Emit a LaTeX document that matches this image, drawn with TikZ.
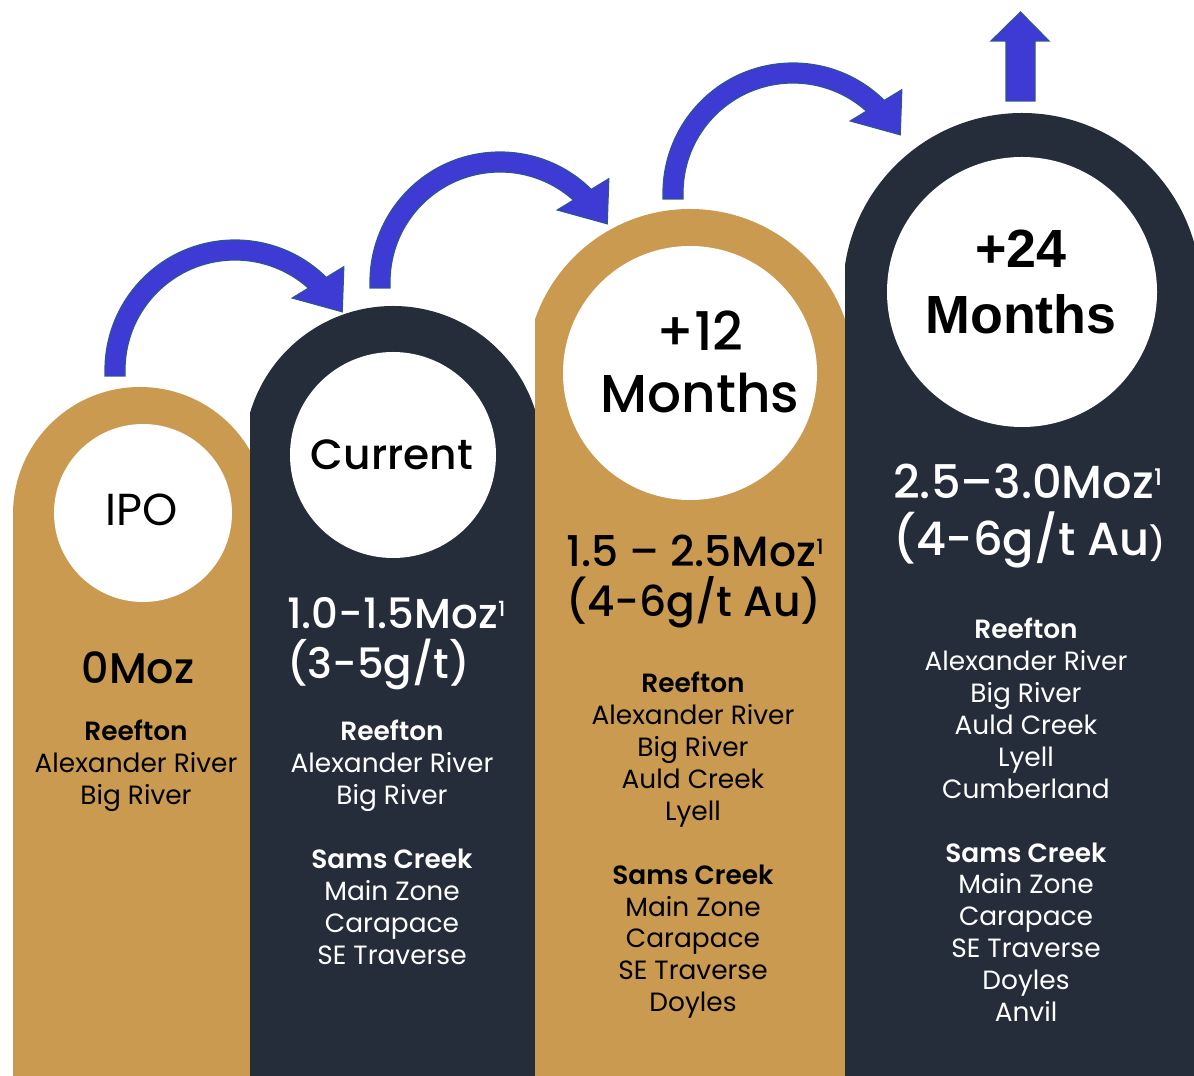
\documentclass[tikz,border=0pt]{standalone}
\usepackage{fontspec}
\setmainfont{Poppins}[BoldFont={* SemiBold}]
\newfontfamily\medf{Poppins Medium}
\newfontfamily\arialf{Liberation Sans}
\usetikzlibrary{calc}
\definecolor{gold}{RGB}{201,154,79}
\definecolor{navy}{RGB}{38,45,58}
\definecolor{arrowblue}{RGB}{62,58,212}
\definecolor{arrowedge}{RGB}{47,84,150}
\newcommand\supone{\raisebox{12bp}{\fontsize{21}{21}\selectfont 1}}
\newcommand\stagecol[6]{%
  \begin{scope}
    \clip (#2,0) rectangle (#3,1076);
    \fill[#1] (#4,#5) circle[radius=#6];
    \fill[#1] (#2,0) rectangle (#3,#5);
  \end{scope}}
\newcommand\curvarrow[1]{%
  \filldraw[barrow] ($(#1)+(-110,-6)$) -- ($(#1)+(-110,0)$)
    arc[start angle=180,end angle=48.1,radius=110]
    -- ($(#1)+(51.5:92)$) -- ($(#1)+(28.5:122)$) -- ($(#1)+(43.5:150)$)
    -- ($(#1)+(45.4:130)$)
    arc[start angle=45.4,end angle=180,radius=130] -- ($(#1)+(-130,-6)$) -- cycle;}
\begin{document}
\begin{tikzpicture}[x=1bp,y=1bp,
  lst/.style={font=\fontsize{26.5}{32}\selectfont, align=center, inner sep=0pt, anchor=north},
  hd/.style={font=\medf\fontsize{42}{50}\selectfont, align=left, inner sep=0pt, anchor=north west},
  circtxt/.style={inner sep=0pt, anchor=center},
  barrow/.style={fill=arrowblue, draw=arrowedge, line width=1.2bp, line join=miter},
]
\useasboundingbox (0,0) rectangle (1194,1076);

% columns
\stagecol{gold}{13}{250}{140}{562}{127}
\stagecol{navy}{250}{535}{393}{621}{149}
\stagecol{gold}{535}{845}{690}{703}{164}
\stagecol{navy}{845}{1194}{1022}{784}{179}

% white discs
\fill[white] (143,563) circle[radius=89];
\fill[white] (393,621) circle[radius=103];
\fill[white] (690,703) circle[radius=127];
\fill[white] (1022,784) circle[radius=135];

% arrows
\coordinate (a1) at (235,706);
\coordinate (a2) at (500,794);
\coordinate (a3) at (793,883);
\curvarrow{a1}
\curvarrow{a2}
\curvarrow{a3}
\filldraw[barrow] (1006,975) -- (1006,1035) -- (991,1035) -- (1020.5,1064)
  -- (1049,1035) -- (1035,1035) -- (1035,975) -- cycle;

% circle labels
\node[circtxt, font=\fontsize{45}{45}\selectfont] (ipo) at (142,566) {IPO};
\node[circtxt, font=\medf\fontsize{42.5}{42.5}\selectfont] (cur) at (392,621) {Current};
\node[circtxt, font=\medf\fontsize{53.5}{53.5}\selectfont] (p12) at (700,745) {+12};
\node[circtxt, font=\medf\fontsize{53.5}{53.5}\selectfont] (m12) at (700,683) {Months};
\node[circtxt, font=\arialf\bfseries\fontsize{54}{54}\selectfont] (p24) at (1021,827) {+24};
\node[circtxt, font=\arialf\bfseries\fontsize{54}{54}\selectfont] (m24) at (1021,762) {Months};

% headline figures
\node[circtxt, font=\medf\fontsize{43}{43}\selectfont] (h1) at (138,408) {0Moz};
\node[hd, text=white] (h2) at (287,479) {1.0-1.5Moz\supone\\(3-5g/t)};
\node[hd, font=\medf\fontsize{42.5}{50}\selectfont] (h3) at (566,541) {1.5 – 2.5Moz\supone\\(4-6g/t Au)};
\node[hd, text=white, font=\medf\fontsize{46.5}{57}\selectfont] (h4) at (893,612) {2.5–3.0Moz\raisebox{13bp}{\fontsize{23}{23}\selectfont 1}\\(4-6g/t Au{\fontsize{33}{33}\selectfont )}};

% project lists
\node[lst] (l1) at (136,356) {{\bfseries Reefton}\\Alexander River\\Big River};
\node[lst, text=white] (l2) at (392,356) {{\bfseries Reefton}\\Alexander River\\Big River\\[32bp]{\bfseries Sams Creek}\\Main Zone\\Carapace\\SE Traverse};
\node[lst] (l3) at (693,404) {{\bfseries Reefton}\\Alexander River\\Big River\\Auld Creek\\Lyell\\[32bp]{\bfseries Sams Creek}\\Main Zone\\Carapace\\SE Traverse\\Doyles};
\node[lst, text=white] (l4) at (1026,458) {{\bfseries Reefton}\\Alexander River\\Big River\\Auld Creek\\Lyell\\Cumberland\\[32bp]{\bfseries Sams Creek}\\Main Zone\\Carapace\\SE Traverse\\Doyles\\Anvil};
\end{tikzpicture}
\end{document}
